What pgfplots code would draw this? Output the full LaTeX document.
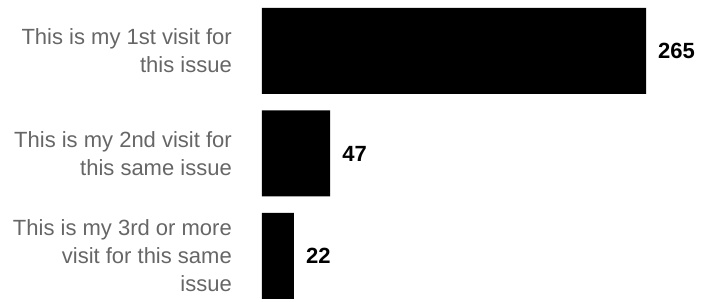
\documentclass[border=0pt]{standalone}
\usepackage{pgfplots}
\pgfplotsset{compat=1.18}
\usepackage{fontspec}
\setmainfont{Liberation Sans}
\definecolor{lblgray}{HTML}{666666}
\begin{document}
\begin{tikzpicture}
\useasboundingbox (0,0) rectangle (712pt,302pt);
\begin{axis}[
  at={(262pt,46pt)}, anchor=south west,
  scale only axis,
  width=384pt, height=205pt,
  xmin=0, xmax=265,
  ymin=0, ymax=2,
  clip=false,
  xbar, bar width=86pt,
  axis line style={draw=none},
  xtick=\empty,
  ytick={0,1,2},
  major tick length=0pt,
  yticklabels={{This is my 3rd or more\\visit for this same\\issue},{This is my 2nd visit for\\this same issue},{This is my 1st visit for\\this issue}},
  yticklabel style={font=\fontsize{22}{28}\selectfont, align=right, text=lblgray, inner sep=0pt, xshift=-30pt},
  nodes near coords,
  nodes near coords style={font=\fontsize{22}{28}\selectfont\bfseries, text=black, anchor=west, inner sep=0pt, xshift=12pt},
  /pgf/number format/assume math mode=true,
]
\addplot[fill=black, draw=none] coordinates {(22,0) (47,1) (265,2)};
\end{axis}
\end{tikzpicture}
\end{document}
